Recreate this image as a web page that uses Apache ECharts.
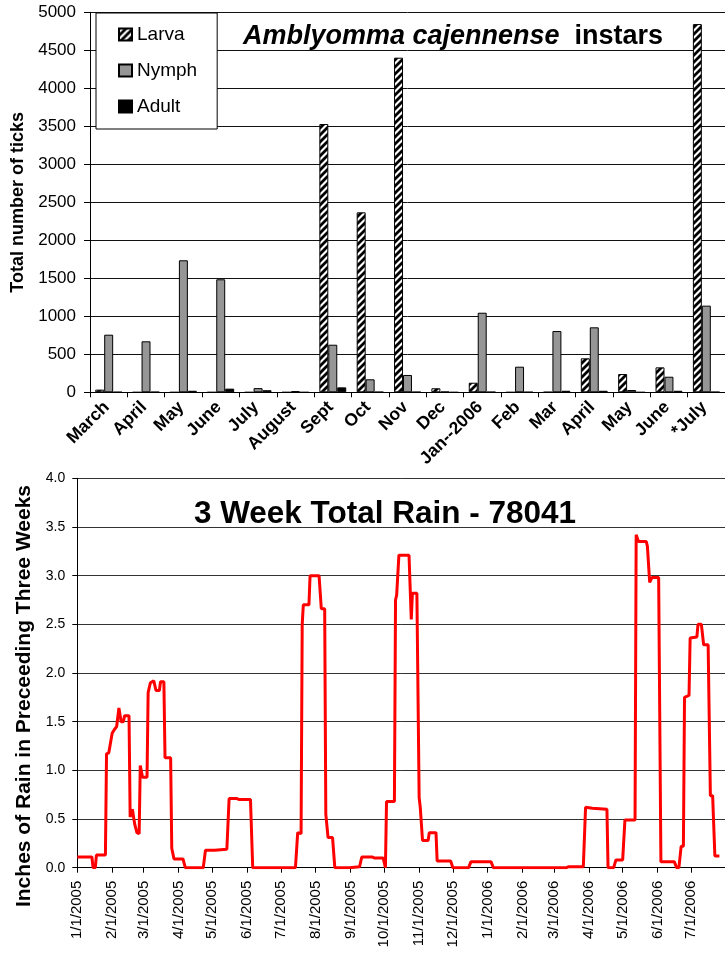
<!DOCTYPE html>
<html>
<head>
<meta charset="utf-8">
<script src="https://cdn.jsdelivr.net/npm/echarts@6/dist/echarts.min.js"></script>
<style>
html,body{margin:0;padding:0;background:#fff;}
#chart{width:725px;height:953px;}
</style>
</head>
<body>
<div id="chart"></div>
<script>
// ---------- Top chart data ----------
const categories = ['March','April','May','June','July','August','Sept','Oct','Nov','Dec','Jan--2006','Feb','Mar','April','May','June','*July'];
const larva = [35, 0, 0, 0, 0, 0, 3530, 2368, 4403, 53, 126, 0, 3, 447, 240, 328, 4845];
const nymph = [758, 671, 1737, 1487, 55, 15, 626, 171, 228, 8, 1047, 337, 806, 855, 30, 205, 1140];
const adult = [3, 5, 20, 48, 27, 0, 65, 5, 5, 0, 5, 3, 20, 20, 0, 20, 5];
const topYTicks = [0, 5000, 500];

// ---------- Bottom chart data (breakpoints of the 3-week total) ----------
const rainDates = [
'2005-01-01','2005-01-14','2005-01-15','2005-01-17','2005-01-18','2005-01-26','2005-01-27','2005-01-29',
'2005-02-01','2005-02-03','2005-02-05','2005-02-07','2005-02-09','2005-02-11','2005-02-12','2005-02-16',
'2005-02-17','2005-02-19','2005-02-21','2005-02-23','2005-02-25','2005-02-26','2005-02-28','2005-03-04',
'2005-03-05','2005-03-07','2005-03-10','2005-03-12','2005-03-15','2005-03-16','2005-03-19','2005-03-20',
'2005-03-25','2005-03-26','2005-03-28','2005-04-05','2005-04-07','2005-04-23','2005-04-25','2005-05-03',
'2005-05-04','2005-05-14','2005-05-16','2005-05-23','2005-05-25','2005-06-04','2005-06-06','2005-07-14',
'2005-07-16','2005-07-19','2005-07-20','2005-07-21','2005-07-26','2005-07-27','2005-08-04','2005-08-06',
'2005-08-09','2005-08-10','2005-08-12','2005-08-16','2005-08-18','2005-08-31','2005-09-01','2005-09-09',
'2005-09-11','2005-09-20','2005-09-22','2005-09-30','2005-10-02','2005-10-03','2005-10-10','2005-10-11',
'2005-10-12','2005-10-14','2005-10-23','2005-10-25','2005-10-26','2005-10-30','2005-11-01','2005-11-02',
'2005-11-04','2005-11-09','2005-11-10','2005-11-16','2005-11-17','2005-11-29','2005-12-01','2005-12-15',
'2005-12-17','2006-01-04','2006-01-06','2006-03-12','2006-03-14','2006-03-27','2006-03-29','2006-04-04',
'2006-04-17','2006-04-18','2006-04-23','2006-04-25','2006-05-01','2006-05-02','2006-05-03','2006-05-12',
'2006-05-13','2006-05-15','2006-05-22','2006-05-23','2006-05-25','2006-05-27','2006-06-02','2006-06-04',
'2006-06-16','2006-06-17','2006-06-18','2006-06-20','2006-06-22','2006-06-24','2006-06-25','2006-06-29',
'2006-06-30','2006-07-06','2006-07-07','2006-07-10','2006-07-12','2006-07-16','2006-07-18','2006-07-20',
'2006-07-22','2006-07-26'
];
const rainValues = [
0.11,0.11,0,0,0.13,0.13,1.17,1.18,
1.38,1.42,1.45,1.64,1.50,1.50,1.56,1.56,
0.52,0.60,0.45,0.36,0.35,1.05,0.93,0.93,
1.80,1.90,1.92,1.82,1.82,1.91,1.91,1.13,
1.13,0.20,0.09,0.09,0,0,0.18,0.18,
0.19,0.19,0.71,0.71,0.70,0.70,0,0,
0.36,0.35,2.50,2.70,2.70,3.00,3.00,2.66,
2.66,0.55,0.31,0.31,0,0,0.01,0.01,
0.11,0.11,0.10,0.10,0,0.68,0.68,2.75,
2.80,3.21,3.21,2.55,2.82,2.82,0.72,0.62,
0.28,0.28,0.36,0.36,0.07,0.07,0,0,
0.06,0.06,0,0,0.01,0.01,0.62,0.61,
0.60,0,0,0.08,0.08,0.10,0.49,0.49,
3.42,3.35,3.35,3.30,2.93,2.98,2.98,0.06,
0.06,0.04,0,0,0.22,0.22,1.75,1.77,
2.36,2.37,2.50,2.50,2.29,2.29,0.74,0.74,
0.12,0.12
];
const monthTicks = ['2005-01-01','2005-02-01','2005-03-01','2005-04-01','2005-05-01','2005-06-01','2005-07-01',
'2005-08-01','2005-09-01','2005-10-01','2005-11-01','2005-12-01','2006-01-01','2006-02-01','2006-03-01',
'2006-04-01','2006-05-01','2006-06-01','2006-07-01'];
const bottomYTicks = [0, 4, 0.5];

// ---------- helpers ----------
function ts(s){ const p = s.split('-').map(Number); return new Date(p[0], p[1]-1, p[2]).getTime(); }
function makeStripe(){
  const n = 7;
  const c = document.createElement('canvas'); c.width = n; c.height = n;
  const g = c.getContext('2d');
  g.fillStyle = '#fff'; g.fillRect(0,0,n,n);
  g.strokeStyle = '#000'; g.lineWidth = 2.8; g.lineCap = 'square';
  g.beginPath();
  g.moveTo(-2, n+2); g.lineTo(n+2, -2);
  g.moveTo(-2, 2); g.lineTo(2, -2);
  g.moveTo(n-2, n+2); g.lineTo(n+2, n-2);
  g.stroke();
  return c;
}
const FONT = '"Liberation Sans", Arial, Helvetica, sans-serif';
const stripe = {image: makeStripe(), repeat: 'repeat'};

const chart = echarts.init(document.getElementById('chart'), null, {renderer: 'canvas'});
const rainData = rainDates.map((d, i) => [ts(d), rainValues[i]]);
const monthTs = monthTicks.map(ts);

chart.setOption({
  animation: false,
  textStyle: {fontFamily: FONT, color: '#000'},
  title: [
    {
      text: '{it|Amblyomma cajennense}  instars',
      left: 448, top: 18, textAlign: 'center',
      textStyle: {fontFamily: FONT, fontSize: 27, fontWeight: 'bold', color: '#000',
        rich: {it: {fontFamily: FONT, fontSize: 27, fontWeight: 'bold', fontStyle: 'italic', color: '#000'}}}
    },
    {
      text: '3 Week Total Rain - 78041',
      left: 380, top: 493, textAlign: 'center',
      textStyle: {fontFamily: FONT, fontSize: 31.5, fontWeight: 'bold', color: '#000'}
    }
  ],
  legend: {
    orient: 'vertical', left: 96, top: 13,
    padding: [12, 20, 13, 22],
    itemWidth: 13, itemHeight: 12, itemGap: 17,
    borderColor: '#000', borderWidth: 1, backgroundColor: '#fff',
    textStyle: {fontFamily: FONT, fontSize: 19, color: '#000'},
    data: [{name: 'Larva', icon: 'rect'}, {name: 'Nymph', icon: 'rect'}, {name: 'Adult', icon: 'rect'}]
  },
  grid: [
    {left: 90, top: 12.3, width: 640, height: 380},
    {left: 77.3, top: 478.3, width: 658, height: 389.4}
  ],
  xAxis: [
    {
      type: 'category', gridIndex: 0, data: categories,
      axisLine: {lineStyle: {color: '#000', width: 1}},
      axisTick: {show: true, length: 5, lineStyle: {color: '#000'}},
      axisLabel: {interval: 0, rotate: 45, fontFamily: FONT, fontSize: 17.5, fontWeight: 'bold', color: '#000', margin: 10,
        padding: [0, 3, 0, 0]},
      splitLine: {show: false}
    },
    {
      type: 'value', gridIndex: 1,
      min: ts('2005-01-01'), max: ts('2006-07-31'),
      axisLine: {lineStyle: {color: '#000', width: 1}},
      axisTick: {show: true, length: 5, lineStyle: {color: '#000'}, customValues: monthTs},
      axisLabel: {
        rotate: 90, fontFamily: FONT, fontSize: 15, color: '#000', margin: 13,
        customValues: monthTs,
        formatter: function (v) { const d = new Date(v); return (d.getMonth()+1) + '/' + d.getDate() + '/' + d.getFullYear(); }
      },
      splitLine: {show: false}
    }
  ],
  yAxis: [
    {
      type: 'value', gridIndex: 0, min: topYTicks[0], max: topYTicks[1], interval: topYTicks[2],
      name: 'Total number of ticks', nameLocation: 'middle', nameGap: 62,
      nameTextStyle: {fontFamily: FONT, fontSize: 18, fontWeight: 'bold', color: '#000'},
      axisLine: {show: true, lineStyle: {color: '#000', width: 1}},
      axisTick: {show: true, length: 6, lineStyle: {color: '#000'}},
      axisLabel: {fontFamily: FONT, fontSize: 17, color: '#000', margin: 14, formatter: v => String(v)},
      splitLine: {show: true, lineStyle: {color: '#111', width: 1}}
    },
    {
      type: 'value', gridIndex: 1, min: bottomYTicks[0], max: bottomYTicks[1], interval: bottomYTicks[2],
      name: 'Inches of Rain in Preceeding Three Weeks', nameLocation: 'middle', nameGap: 40,
      nameTextStyle: {fontFamily: FONT, fontSize: 21, fontWeight: 'bold', color: '#000', padding: [0, 46, 0, 0]},
      axisLine: {show: true, lineStyle: {color: '#000', width: 1}},
      axisTick: {show: true, length: 5, lineStyle: {color: '#000'}},
      axisLabel: {fontFamily: FONT, fontSize: 14, color: '#000', margin: 12,
        formatter: v => v.toFixed(1)},
      splitLine: {show: true, lineStyle: {color: '#333', width: 1}}
    }
  ],
  series: [
    {name: 'Larva', type: 'bar', xAxisIndex: 0, yAxisIndex: 0, data: larva,
      barGap: '0%', barCategoryGap: '28%',
      itemStyle: {color: stripe, borderColor: '#000', borderWidth: 1}},
    {name: 'Nymph', type: 'bar', xAxisIndex: 0, yAxisIndex: 0, data: nymph,
      barGap: '0%', barCategoryGap: '28%',
      itemStyle: {color: '#969696', borderColor: '#000', borderWidth: 1}},
    {name: 'Adult', type: 'bar', xAxisIndex: 0, yAxisIndex: 0, data: adult,
      barGap: '0%', barCategoryGap: '28%',
      itemStyle: {color: '#000', borderColor: '#000', borderWidth: 1}},
    {name: 'Rain', type: 'line', xAxisIndex: 1, yAxisIndex: 1, data: rainData,
      showSymbol: false, symbol: 'none',
      lineStyle: {color: '#ff0000', width: 3}, z: 5}
  ]
});
</script>
</body>
</html>
